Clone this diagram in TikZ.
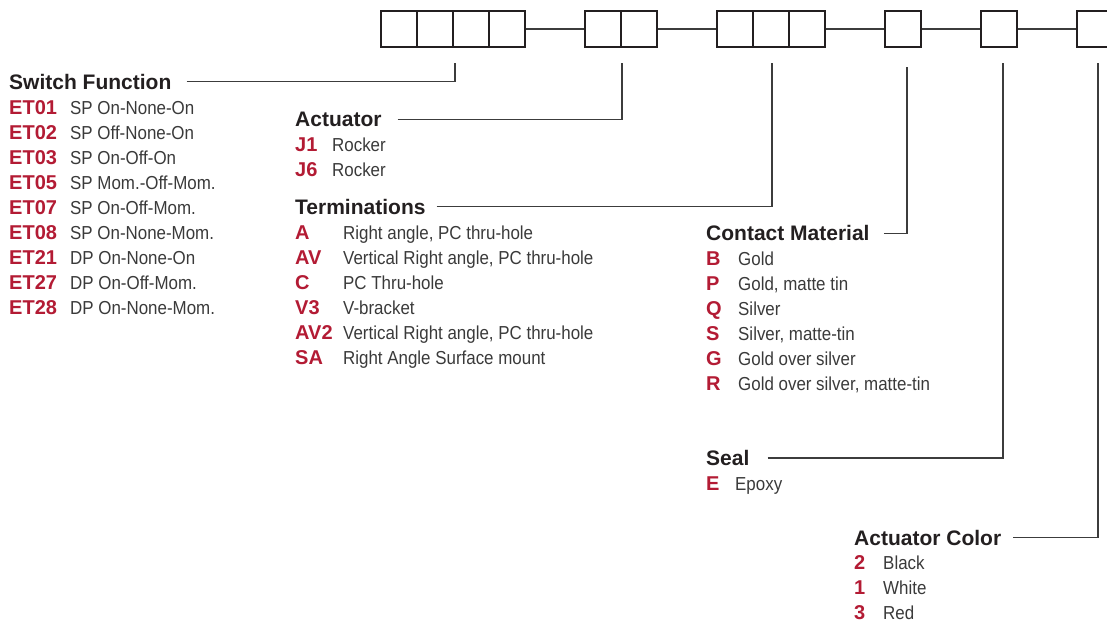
\documentclass[tikz,border=0pt]{standalone}
\usepackage{fontspec}
\setmainfont{Liberation Sans}
\newfontfamily\descfont[FakeStretch=0.9]{Liberation Sans}
\usetikzlibrary{positioning,calc}
\definecolor{Code}{HTML}{B31B34}
\definecolor{Ink}{HTML}{231F20}
\definecolor{Grey}{HTML}{3A3A3A}
\definecolor{Rule}{HTML}{3C3C3C}
\tikzset{
  cell/.style={draw=Ink,line width=1.3pt,minimum size=36pt,inner sep=0pt},
  link/.style={draw=Rule,line width=1.3pt},
  lead/.style={draw=Rule,line width=1.3pt},
  head/.style={anchor=base west,inner sep=0pt,text=Ink,font=\fontsize{21}{24}\selectfont\bfseries},
  code/.style={anchor=base west,inner sep=0pt,text=Code,font=\fontsize{20}{24}\selectfont\bfseries},
  desc/.style={anchor=base west,inner sep=0pt,text=Grey,font=\descfont\fontsize{18.8}{22}\selectfont}
}

\begin{document}
\begin{tikzpicture}[x=1pt,y=-1pt]
  \useasboundingbox (0,0) rectangle (1107,622);
  % part number boxes
  \foreach \x [count=\i] in {399,435,471,507,603,639,735,771,807,903,999,1095}
    \node[cell] (b\i) at (\x,29) {};
  \draw[link] (b4.east)--(b5.west); \draw[link] (b6.east)--(b7.west);
  \draw[link] (b9.east)--(b10.west); \draw[link] (b10.east)--(b11.west);
  \draw[link] (b11.east)--(b12.west);
  % leader tops
  \coordinate (tSW) at (455,63); \coordinate (tAct) at (622,63);
  \coordinate (tTerm) at (772,63); \coordinate (tCon) at (907,67);
  \coordinate (tSeal) at (1003,63); \coordinate (tCol) at (1098,63);
  % headings
  \node[head] (hSW) at (9,89) {Switch Function};
  \node[head] (hAct) at (295,126.5) {Actuator};
  \node[head] (hTerm) at (295,214.3) {Terminations};
  \node[head] (hCon) at (706,240.7) {Contact Material};
  \node[head] (hSeal) at (706,465.5) {Seal};
  \node[head] (hCol) at (854,545) {Actuator Color};
  \draw[lead] ([xshift=15pt]hSW.east) -| (tSW);
  \draw[lead] ([xshift=16pt]hAct.east) -| (tAct);
  \draw[lead] ([xshift=11pt]hTerm.east) -| (tTerm);
  \draw[lead] ([xshift=14pt]hCon.east) -| (tCon);
  \draw[lead] ([xshift=18pt]hSeal.east) -| (tSeal);
  \draw[lead] ([xshift=12pt]hCol.east) -| (tCol);
  % option lists
  \foreach \c/\d [count=\i] in {ET01/SP On-None-On,ET02/SP Off-None-On,ET03/SP On-Off-On,
      ET05/SP Mom.-Off-Mom.,ET07/SP On-Off-Mom.,ET08/SP On-None-Mom.,
      ET21/DP On-None-On,ET27/DP On-Off-Mom.,ET28/DP On-None-Mom.}{
    \node[code] (sw-c\i) at (9,89+25*\i) {\c};
    \node[desc] (sw-d\i) at (70,89+25*\i) {\d};
  }
  \foreach \c/\d [count=\i] in {J1/Rocker,J6/Rocker}{
    \node[code] (act-c\i) at (295,126.5+25*\i) {\c};
    \node[desc] (act-d\i) at (332,126.5+25*\i) {\d};
  }
  \foreach \c/\d [count=\i] in {A/{Right angle, PC thru-hole},AV/{Vertical Right angle, PC thru-hole},
      C/PC Thru-hole,V3/V-bracket,AV2/{Vertical Right angle, PC thru-hole},SA/Right Angle Surface mount}{
    \node[code] (term-c\i) at (295,214.3+25*\i) {\c};
    \node[desc] (term-d\i) at (343,214.3+25*\i) {\d};
  }
  \foreach \c/\d [count=\i] in {B/Gold,P/{Gold, matte tin},Q/Silver,S/{Silver, matte-tin},
      G/Gold over silver,R/{Gold over silver, matte-tin}}{
    \node[code] (con-c\i) at (706,240.7+25*\i) {\c};
    \node[desc] (con-d\i) at (738,240.7+25*\i) {\d};
  }
  \node[code] (seal-c1) at (706,490.7) {E};
  \node[desc] (seal-d1) at (735,490.7) {Epoxy};
  \foreach \c/\d [count=\i] in {2/Black,1/White,3/Red}{
    \node[code] (col-c\i) at (854,544.5+25*\i) {\c};
    \node[desc] (col-d\i) at (883,544.5+25*\i) {\d};
  }
\end{tikzpicture}
\end{document}
